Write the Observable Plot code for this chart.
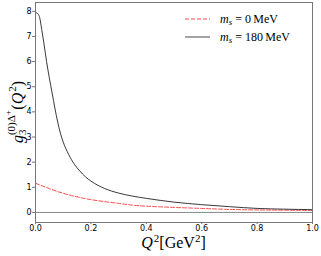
<!DOCTYPE html>
<html><head><meta charset="utf-8">
<script src="https://cdn.jsdelivr.net/npm/d3@7"></script>
<script src="https://cdn.jsdelivr.net/npm/@observablehq/plot@0.6"></script>
<style>
body{margin:0;padding:0;background:#fff;}
svg{display:block;}
</style>
</head><body><div id="chart"></div>
<script>
const q2Black = [0,0.005,0.01,0.015,0.02,0.025,0.03,0.04,0.05,0.06,0.07,0.08,0.09,0.1,0.12,0.14,0.16,0.18,0.2,0.25,0.3,0.35,0.4,0.45,0.5,0.6,0.7,0.8,0.9,1.0];
const gBlack = [7.95,7.93,7.88,7.75,7.45,7.1,6.75,6.0,5.35,4.75,4.15,3.6,3.15,2.8,2.3,1.92,1.65,1.42,1.25,0.95,0.77,0.65,0.56,0.48,0.41,0.31,0.23,0.16,0.13,0.11];
const q2Red = [0,0.05,0.1,0.15,0.2,0.25,0.3,0.35,0.4,0.5,0.6,0.7,0.8,0.9,1.0];
const gRed = [1.16,0.95,0.76,0.62,0.51,0.43,0.36,0.29,0.25,0.2,0.16,0.12,0.10,0.09,0.08];
const xTicks = [0,0.2,0.4,0.6,0.8,1.0];
const yTicks = [0,1,2,3,4,5,6,7,8];
const legendLabels = ["0", "180"];

const black = q2Black.map((q,i)=>({q, g:gBlack[i]}));
const red = q2Red.map((q,i)=>({q, g:gRed[i]}));

const W = 321, H = 256;
const mL = 35, mR = 9, mT = 2, mB = 34;
const redColor = "#ff4a4a", blackColor = "#222";

const plot = Plot.plot({
  width: W, height: H,
  marginLeft: mL, marginRight: mR, marginTop: mT, marginBottom: mB,
  style: {fontFamily: "DejaVu Sans", fontSize: "8px", color: "#000", background: "#fff"},
  x: {domain: [0,1]},
  y: {domain: [-0.4, 8.35]},
  marks: [
    Plot.ruleY([0], {stroke: "#888", strokeWidth: 1}),
    Plot.line(red, {x:"q", y:"g", stroke:redColor, strokeWidth:1, strokeDasharray:"4,2", curve:"monotone-x"}),
    Plot.line(black, {x:"q", y:"g", stroke:blackColor, strokeWidth:0.9, curve:"monotone-x"}),
    Plot.frame({stroke:"#777"}),
    Plot.axisX({ticks: xTicks, tickFormat: d3.format(".1f"), tickSize: 2, tickPadding: 0.5, label: null, stroke:"#777"}),
    Plot.axisY({ticks: yTicks, tickFormat: d3.format("d"), tickSize: 3, tickPadding: 1, label: null, stroke:"#777"})
  ]
});
document.getElementById("chart").appendChild(plot);

const svg = d3.select(plot);
const serif = "Liberation Serif";

// Legend
const legX0 = 185, legX1 = 210, legTx = 220;
const rows = [
  {y: 19, stroke: redColor, dash: "4,2", val: legendLabels[0]},
  {y: 37, stroke: "#333", dash: null, val: legendLabels[1]}
];
rows.forEach(r => {
  const ln = svg.append("line").attr("x1", legX0).attr("x2", legX1).attr("y1", r.y).attr("y2", r.y)
    .attr("stroke", r.stroke).attr("stroke-width", r.dash ? 1 : 0.9);
  if (r.dash) ln.attr("stroke-dasharray", r.dash);
  const t = svg.append("text").attr("x", legTx).attr("y", r.y + 4).attr("text-anchor", "start")
    .attr("font-family", serif).attr("font-size", 12).attr("fill", "#000");
  t.append("tspan").attr("font-style", "italic").text("m");
  t.append("tspan").attr("font-style", "italic").attr("font-size", 9).attr("dy", 2).text("s");
  t.append("tspan").attr("dy", -2).text(" = " + r.val + "\u2009MeV");
});

function composite(g, pieces) {
  const nodes = [];
  pieces.forEach(p => {
    const t = g.append("text").attr("text-anchor", "start").attr("font-family", serif)
      .attr("font-size", p.size).attr("font-style", p.italic ? "italic" : "normal")
      .attr("fill", "#000").attr("y", p.dy || 0).text(p.text);
    const w = t.node().getComputedTextLength();
    nodes.push({t, p, w});
  });
  let cursor = 0, stackX = null, stackEnd = 0;
  nodes.forEach(n => {
    if (n.p.stack === "base") { stackX = cursor; n.t.attr("x", cursor); stackEnd = cursor + n.w; }
    else if (n.p.stack === "reset") { n.t.attr("x", stackX); stackEnd = Math.max(stackEnd, stackX + n.w); cursor = stackX + n.w; }
    else if (n.p.stack === "cont") { n.t.attr("x", cursor); cursor += n.w; stackEnd = Math.max(stackEnd, cursor); }
    else if (n.p.stack === "close") { cursor = stackEnd + (n.p.gap || 0); n.t.attr("x", cursor); cursor += n.w; }
    else { n.t.attr("x", cursor); cursor += n.w + (n.p.gap || 0); }
  });
  const total = cursor;
  nodes.forEach(n => n.t.attr("x", +n.t.attr("x") - total/2));
}

// X label
const gx = svg.append("g").attr("transform", `translate(${(mL + W - mR)/2},248)`);
composite(gx, [
  {text:"Q", size:16, italic:true, gap:1},
  {text:"2", size:11, dy:-6},
  {text:"[GeV", size:16},
  {text:"2", size:11, dy:-6},
  {text:"]", size:16}
]);

// Y label
const gy = svg.append("g").attr("transform", `translate(23,${(mT + H - mB)/2}) rotate(-90)`);
composite(gy, [
  {text:"g", size:16, italic:true},
  {text:"3", size:11, dy:3, stack:"base"},
  {text:"(0)\u0394", size:11, dy:-8, stack:"reset"},
  {text:"+", size:9, dy:-12, stack:"cont"},
  {text:"(", size:16, stack:"close", gap:0.5},
  {text:"Q", size:16, italic:true, gap:1},
  {text:"2", size:11, dy:-7},
  {text:")", size:16}
]);
</script>
</body></html>
